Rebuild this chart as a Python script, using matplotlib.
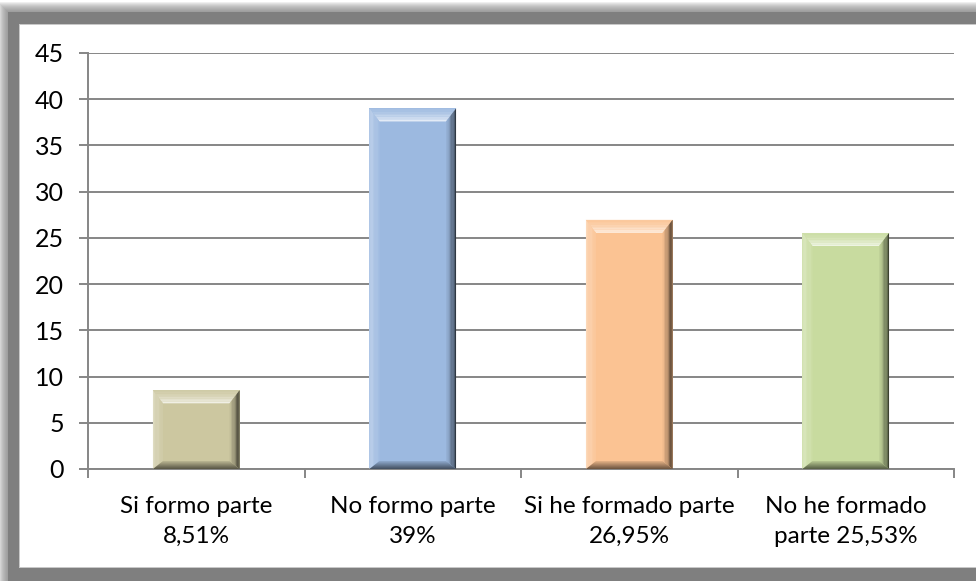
import matplotlib
matplotlib.use("Agg")
import matplotlib.pyplot as plt
import numpy as np
from matplotlib.patches import Rectangle
from matplotlib.colors import to_rgb

categories = ["Si formo parte\n8,51%", "No formo parte\n39%", "Si he formado parte\n26,95%", "No he formado\nparte 25,53%"]
values = [8.51, 39, 26.95, 25.53]
colors = ["#CCC7A0", "#9CB9E0", "#FBC393", "#C8DB9F"]
yticks = [0, 5, 10, 15, 20, 25, 30, 35, 40, 45]

W, H = 976, 581
plt.rcParams['font.family'] = ['Lato', 'DejaVu Sans']
fig = plt.figure(figsize=(W / 100, H / 100), dpi=100)
fig.patch.set_facecolor("white")

def fx(px):
    return px / W

def fy(py):  # py measured from top
    return 1 - py / H

# frame shadow / border
gray = "#7f7f7f"
for k in range(10, 0, -1):
    fig.patches.append(Rectangle((fx(8 - k), fy(H + 20)), fx(W + 40), fy(12 - k) - fy(H + 20),
                                 transform=fig.transFigure, facecolor=gray, edgecolor="none",
                                 alpha=0.12, zorder=-5))
fig.patches.append(Rectangle((fx(8), fy(H + 20)), fx(W + 40), fy(12) - fy(H + 20),
                             transform=fig.transFigure, facecolor=gray, edgecolor="none", zorder=-4))
fig.patches.append(Rectangle((fx(19), fy(568)), fx(W + 40), fy(24) - fy(568),
                             transform=fig.transFigure, facecolor="#c8c8c8", edgecolor="none", zorder=-3))
fig.patches.append(Rectangle((fx(20), fy(567)), fx(W + 40), fy(25) - fy(567),
                             transform=fig.transFigure, facecolor="white", edgecolor="none", zorder=-2))

ax_l, ax_r, ax_t, ax_b = 88, 954, 53, 469
ax = fig.add_axes([fx(ax_l), fy(ax_b), fx(ax_r - ax_l), fy(ax_t) - fy(ax_b)])
ax.set_facecolor("none")
n = len(values)
ax.set_xlim(-0.5, n - 0.5)
ax.set_ylim(0, 45)
ax.set_yticks(yticks)
ax.set_yticklabels([str(t) for t in yticks])

gc = "#868686"
ax.grid(axis="y", color=gc, linewidth=1.4, zorder=0)
ax.set_axisbelow(True)
for s in ["top", "right"]:
    ax.spines[s].set_visible(False)
for s in ["left", "bottom"]:
    ax.spines[s].set_color(gc)
    ax.spines[s].set_linewidth(1.4)

fs = 17.5
ax.set_xticks(np.arange(-0.5, n, 1.0))
ax.set_xticklabels([])
ax.set_xticks(np.arange(n), minor=True)
ax.set_xticklabels(categories, minor=True, fontsize=fs, color="#000000", linespacing=1.5)
ax.tick_params(axis="x", which="major", direction="out", length=6.5, width=1.4, color=gc)
ax.tick_params(axis="x", which="minor", length=0, pad=19.5)
ax.tick_params(axis="y", direction="out", length=6.5, width=1.4, color=gc, labelsize=18, pad=11)

bw = 0.4
bars = ax.bar(np.arange(n), values, width=bw, color=colors, edgecolor="none", zorder=2)

# bevel effect
pxx = (ax_r - ax_l) / n  # px per x-unit
pxy = (ax_b - ax_t) / 45.0  # px per y-unit
bx = 10 / pxx
bt = 13 / pxy
bb = 8 / pxy

def mix(c, other, t):
    c = np.array(to_rgb(c)); o = np.array(to_rgb(other))
    return tuple(c * (1 - t) + o * t)

steps = 8
for bar, c in zip(bars, colors):
    x0 = bar.get_x(); x1 = x0 + bar.get_width(); h = bar.get_height()
    for i in range(steps):
        a = i / steps; b = (i + 1) / steps
        col = mix(c, "white", 0.1 + 0.75 * (a ** 1.5))
        ax.fill([x0 + bx * a, x1 - bx * a, x1 - bx * b, x0 + bx * b],
                [h - bt * a, h - bt * a, h - bt * b, h - bt * b], color=col, lw=0, zorder=3)
        col = mix(c, "white", 0.3 * (1 - a) + 0.05)
        ax.fill([x0 + bx * a, x0 + bx * b, x0 + bx * b, x0 + bx * a],
                [bb * a, bb * b, h - bt * b, h - bt * a], color=col, lw=0, zorder=3)
        col = mix(c, "black", 0.7 * (1 - a) ** 1.3)
        ax.fill([x1 - bx * a, x1 - bx * b, x1 - bx * b, x1 - bx * a],
                [bb * a, bb * b, h - bt * b, h - bt * a], color=col, lw=0, zorder=3)
        col = mix(c, "black", 0.5 * (1 - a) + 0.05)
        ax.fill([x0 + bx * a, x1 - bx * a, x1 - bx * b, x0 + bx * b],
                [bb * a, bb * a, bb * b, bb * b], color=col, lw=0, zorder=3)

fig.savefig("out.png", dpi=100)
